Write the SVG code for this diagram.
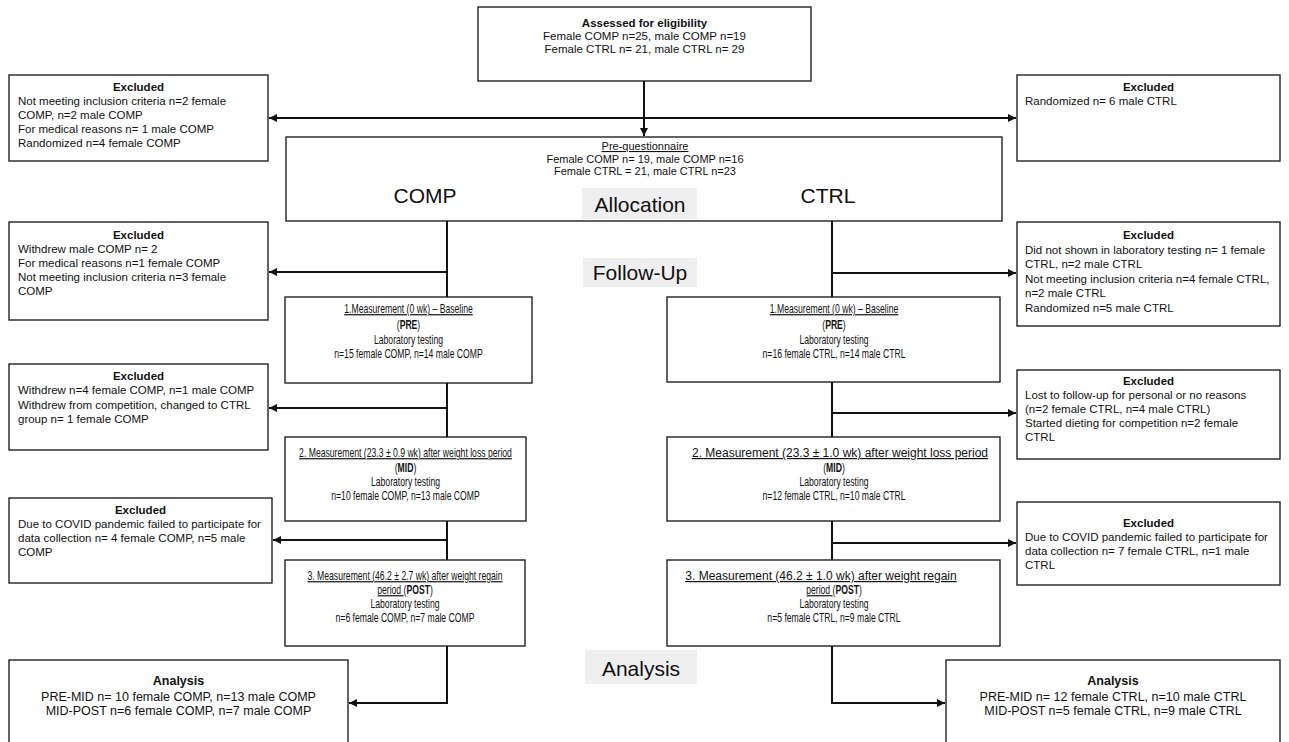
<svg xmlns="http://www.w3.org/2000/svg" width="1289" height="742" viewBox="0 0 1289 742">
<style>
.box{fill:#fff;stroke:#222;stroke-width:1.4}
.lbl{fill:#efefef}
.t{font-family:"Liberation Sans",Arial,sans-serif;font-size:11.5px;fill:#111}
.b{font-weight:bold}
.m{font-family:"Liberation Sans",Arial,sans-serif;font-size:12px;fill:#111;text-anchor:middle}
.p{font-family:"Liberation Sans",Arial,sans-serif;font-size:11px;fill:#111;text-anchor:middle}
.big{font-family:"Liberation Sans",Arial,sans-serif;font-size:21px;fill:#111;text-anchor:middle}
.an{font-family:"Liberation Sans",Arial,sans-serif;font-size:12.5px;fill:#111;text-anchor:middle}
.c{text-anchor:middle}
.u{text-decoration:underline}
.ln{fill:none;stroke:#111;stroke-width:2}
</style>
<defs>
<marker id="ah" viewBox="0 0 10 10" refX="10" refY="5" markerWidth="4" markerHeight="4" orient="auto" markerUnits="strokeWidth">
<path d="M0,0 L10,5 L0,10 z" fill="#111"/>
</marker>
</defs>

<g id="eligibility">
<rect class="box" x="478" y="7" width="333" height="74"/>
<text class="t c b" x="644.5" y="27">Assessed for eligibility</text>
<text class="t c" x="644.5" y="40">Female COMP n=25, male COMP n=19</text>
<text class="t c" x="644.5" y="53">Female CTRL n= 21, male CTRL n= 29</text>
</g>

<g id="excl1L">
<rect class="box" x="9" y="75" width="259" height="86"/>
<text class="t c b" x="138.5" y="91">Excluded</text>
<text class="t" x="18" y="105">Not meeting inclusion criteria n=2 female</text>
<text class="t" x="18" y="119">COMP, n=2 male COMP</text>
<text class="t" x="18" y="133">For medical reasons n= 1 male COMP</text>
<text class="t" x="18" y="147">Randomized n=4 female COMP</text>
</g>

<g id="excl1R">
<rect class="box" x="1017" y="75" width="263" height="86"/>
<text class="t c b" x="1148.5" y="91">Excluded</text>
<text class="t" x="1025" y="105">Randomized n= 6 male CTRL</text>
</g>

<g id="prequestionnaire">
<rect class="box" x="286" y="137" width="716" height="84"/>
<text class="p u" x="645" y="150">Pre-questionnaire</text>
<text class="p" x="645" y="163">Female COMP n= 19, male COMP n=16</text>
<text class="p" x="645" y="175">Female CTRL = 21, male CTRL n=23</text>
<text class="big" x="425" y="203">COMP</text>
<text class="big" x="828" y="203">CTRL</text>
<rect class="lbl" x="582" y="188" width="115" height="31"/>
<text class="big" x="640" y="212">Allocation</text>
</g>

<g id="followup">
<rect class="lbl" x="583" y="258" width="114" height="29"/>
<text class="big" x="640" y="280">Follow-Up</text>
</g>

<g id="excl2L">
<rect class="box" x="9" y="222" width="259" height="98"/>
<text class="t c b" x="138.5" y="239">Excluded</text>
<text class="t" x="18" y="253">Withdrew male COMP n= 2</text>
<text class="t" x="18" y="267">For medical reasons n=1 female COMP</text>
<text class="t" x="18" y="281">Not meeting inclusion criteria n=3 female</text>
<text class="t" x="18" y="295">COMP</text>
</g>

<g id="excl2R">
<rect class="box" x="1017" y="222" width="263" height="104"/>
<text class="t c b" x="1148.5" y="239">Excluded</text>
<text class="t" x="1025" y="253.5">Did not shown in laboratory testing n= 1 female</text>
<text class="t" x="1025" y="268">CTRL, n=2 male CTRL</text>
<text class="t" x="1025" y="282.5">Not meeting inclusion criteria n=4 female CTRL,</text>
<text class="t" x="1025" y="297">n=2 male CTRL</text>
<text class="t" x="1025" y="311.5">Randomized n=5 male CTRL</text>
</g>

<g id="meas1L">
<rect class="box" x="285" y="297" width="247" height="86"/>
<g transform="translate(408.5 0) scale(0.72 1)">
<text class="m u" x="0" y="313">1.Measurement (0 wk) – Baseline</text>
<text class="m" x="0" y="329">(<tspan font-weight="bold">PRE</tspan>)</text>
<text class="m" x="0" y="344">Laboratory testing</text>
<text class="m" x="0" y="358">n=15 female COMP, n=14 male COMP</text>
</g>
</g>

<g id="meas1R">
<rect class="box" x="667" y="297" width="333" height="85"/>
<g transform="translate(834 0) scale(0.72 1)">
<text class="m u" x="0" y="313">1.Measurement (0 wk) – Baseline</text>
<text class="m" x="0" y="329">(<tspan font-weight="bold">PRE</tspan>)</text>
<text class="m" x="0" y="344">Laboratory testing</text>
<text class="m" x="0" y="358">n=16 female CTRL, n=14 male CTRL</text>
</g>
</g>

<g id="excl3L">
<rect class="box" x="9" y="364" width="259" height="86"/>
<text class="t c b" x="138.5" y="380">Excluded</text>
<text class="t" x="18" y="394">Withdrew n=4 female COMP, n=1 male COMP</text>
<text class="t" x="18" y="408.5">Withdrew from competition, changed to CTRL</text>
<text class="t" x="18" y="423">group n= 1 female COMP</text>
</g>

<g id="excl3R">
<rect class="box" x="1017" y="370" width="263" height="89"/>
<text class="t c b" x="1148.5" y="385">Excluded</text>
<text class="t" x="1025" y="399">Lost to follow-up for personal or no reasons</text>
<text class="t" x="1025" y="413">(n=2 female CTRL, n=4 male CTRL)</text>
<text class="t" x="1025" y="427">Started dieting for competition n=2 female</text>
<text class="t" x="1025" y="441">CTRL</text>
</g>

<g id="meas2L">
<rect class="box" x="285" y="437" width="241" height="84"/>
<g transform="translate(405.5 0) scale(0.72 1)">
<text class="m u" x="0" y="457">2. Measurement (23.3 ± 0.9 wk) after weight loss period</text>
<text class="m" x="0" y="472">(<tspan font-weight="bold">MID</tspan>)</text>
<text class="m" x="0" y="486">Laboratory testing</text>
<text class="m" x="0" y="500">n=10 female COMP, n=13 male COMP</text>
</g>
</g>

<g id="meas2R">
<rect class="box" x="667" y="437" width="333" height="84"/>
<text class="m u" x="840" y="457" font-size="11.5">2. Measurement (23.3 ± 1.0 wk) after weight loss period</text>
<g transform="translate(834 0) scale(0.72 1)">
<text class="m" x="0" y="472">(<tspan font-weight="bold">MID</tspan>)</text>
<text class="m" x="0" y="486">Laboratory testing</text>
<text class="m" x="0" y="500">n=12 female CTRL, n=10 male CTRL</text>
</g>
</g>

<g id="excl4L">
<rect class="box" x="9" y="498" width="263" height="85"/>
<text class="t c b" x="140.5" y="514">Excluded</text>
<text class="t" x="18" y="528">Due to COVID pandemic failed to participate for</text>
<text class="t" x="18" y="542">data collection n= 4 female COMP, n=5 male</text>
<text class="t" x="18" y="556">COMP</text>
</g>

<g id="excl4R">
<rect class="box" x="1017" y="502" width="263" height="83"/>
<text class="t c b" x="1148.5" y="527">Excluded</text>
<text class="t" x="1025" y="541">Due to COVID pandemic failed to participate for</text>
<text class="t" x="1025" y="555">data collection n= 7 female CTRL, n=1 male</text>
<text class="t" x="1025" y="569">CTRL</text>
</g>

<g id="meas3L">
<rect class="box" x="285" y="560" width="240" height="86"/>
<g transform="translate(405 0) scale(0.72 1)">
<text class="m" x="0" y="580"><tspan class="u">3. Measurement (46.2 ± 2.7 wk) after weight regain</tspan></text>
<text class="m" x="0" y="594"><tspan class="u">period </tspan>(<tspan font-weight="bold">POST</tspan>)</text>
<text class="m" x="0" y="608">Laboratory testing</text>
<text class="m" x="0" y="622">n=6 female COMP, n=7 male COMP</text>
</g>
</g>

<g id="meas3R">
<rect class="box" x="667" y="560" width="333" height="86"/>
<text class="m" x="821" y="580" font-size="11.5"><tspan class="u">3. Measurement (46.2 ± 1.0 wk) after weight regain</tspan></text>
<g transform="translate(834 0) scale(0.72 1)">
<text class="m" x="0" y="594"><tspan class="u">period </tspan>(<tspan font-weight="bold">POST</tspan>)</text>
<text class="m" x="0" y="608">Laboratory testing</text>
<text class="m" x="0" y="622">n=5 female CTRL, n=9 male CTRL</text>
</g>
</g>

<g id="analysisLabel">
<rect class="lbl" x="585" y="650" width="112" height="34"/>
<text class="big" x="641" y="676" font-size="26">Analysis</text>
</g>

<g id="analysisL">
<rect class="box" x="9" y="660" width="339" height="100"/>
<text class="an b" x="178.5" y="685">Analysis</text>
<text class="an" x="178.5" y="701">PRE-MID n= 10 female COMP, n=13 male COMP</text>
<text class="an" x="178.5" y="715">MID-POST n=6 female COMP, n=7 male COMP</text>
</g>

<g id="analysisR">
<rect class="box" x="946" y="660" width="334" height="100"/>
<text class="an b" x="1113" y="685">Analysis</text>
<text class="an" x="1113" y="701">PRE-MID n= 12 female CTRL, n=10 male CTRL</text>
<text class="an" x="1113" y="715">MID-POST n=5 female CTRL, n=9 male CTRL</text>
</g>

<g id="connectors">
<path class="ln" d="M644,81 V136" marker-end="url(#ah)"/>
<path class="ln" d="M644,118 H269" marker-end="url(#ah)"/>
<path class="ln" d="M644,118 H1016" marker-end="url(#ah)"/>
<path class="ln" d="M447,221 V297"/>
<path class="ln" d="M447,272 H269" marker-end="url(#ah)"/>
<path class="ln" d="M832,221 V297"/>
<path class="ln" d="M832,273 H1016" marker-end="url(#ah)"/>
<path class="ln" d="M447,383 V437"/>
<path class="ln" d="M447,408 H269" marker-end="url(#ah)"/>
<path class="ln" d="M832,382 V437"/>
<path class="ln" d="M832,413 H1016" marker-end="url(#ah)"/>
<path class="ln" d="M447,521 V560"/>
<path class="ln" d="M447,540 H273" marker-end="url(#ah)"/>
<path class="ln" d="M832,521 V560"/>
<path class="ln" d="M832,543 H1016" marker-end="url(#ah)"/>
<path class="ln" d="M447,646 V703 H349" marker-end="url(#ah)"/>
<path class="ln" d="M832,646 V703 H945" marker-end="url(#ah)"/>
</g>
</svg>
